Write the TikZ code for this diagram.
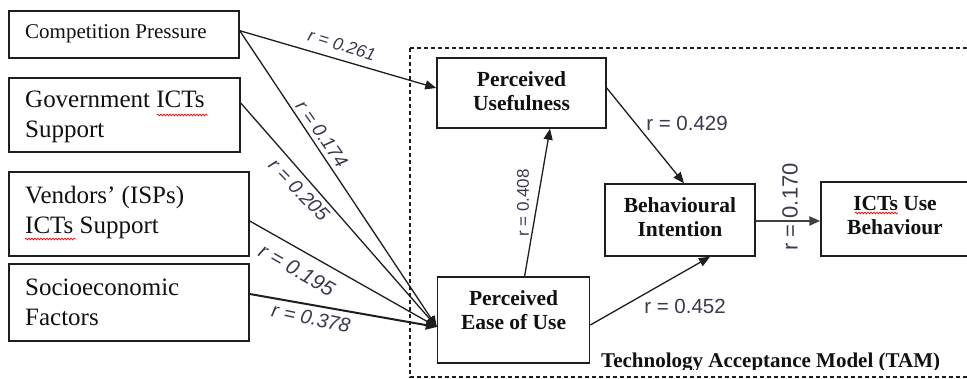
\documentclass[tikz,border=0pt]{standalone}
\usepackage{fontspec}
\setmainfont{Liberation Serif}
\newfontfamily\labfont{Liberation Sans}
\usetikzlibrary{arrows.meta,decorations.pathmorphing}
\definecolor{edgec}{HTML}{1E1E1E}
\definecolor{labc}{HTML}{3A3A4E}
\definecolor{txtc}{HTML}{111111}
\begin{document}
\begin{tikzpicture}[x=1pt,y=-1pt,
 boxst/.style={draw=edgec,line width=1.5pt,rectangle,inner sep=0pt,fill=white},
 ltext/.style={anchor=west,align=left,inner sep=0pt,text=txtc,font=\fontsize{25}{30}\selectfont},
 rtext/.style={align=center,inner sep=0pt,text=txtc,font=\bfseries\fontsize{21.5}{24}\selectfont},
 conn/.style={draw=edgec,line width=1.3pt,-{Triangle[length=11pt,width=9pt]}},
 slab/.style={text=labc,inner sep=0pt,font=\labfont\itshape\fontsize{#1}{20}\selectfont},
 slab/.default=19,
 ulab/.style={text=labc,inner sep=0pt,font=\labfont\fontsize{20.5}{24}\selectfont},
 squig/.style={draw=red,line width=0.7pt,decorate,decoration={snake,amplitude=0.9pt,segment length=3pt}}
]
\useasboundingbox (0,0) rectangle (967,379);
\fill[white] (0,0) rectangle (967,379);
% TAM frame
\draw[edgec,line width=1.3pt,dash pattern=on 4pt off 3pt] (410,48) rectangle (1000,377);
% boxes
\node[boxst,minimum width=230pt,minimum height=47pt] (cp) at (124,34.3) {};
\node[boxst,minimum width=231pt,minimum height=74pt] (gov) at (124.5,115) {};
\node[boxst,minimum width=240pt,minimum height=84pt] (ven) at (129,214) {};
\node[boxst,minimum width=240pt,minimum height=77pt] (soc) at (129,302.5) {};
\node[boxst,minimum width=169pt,minimum height=70pt] (pu) at (521.5,93) {};
\node[boxst,minimum width=152pt,minimum height=86pt] (peou) at (513.6,320) {};
\node[boxst,minimum width=150pt,minimum height=72pt] (bi) at (680,220) {};
\node[boxst,minimum width=148pt,minimum height=74pt] (ict) at (895,219) {};
% box texts
\node[ltext,font=\fontsize{21}{25}\selectfont] (cp-t) at (25,34.2) {Competition Pressure};
\node[ltext] (gov-t) at (25,117.2) {Government ICTs\\Support};
\node[ltext] (ven-t) at (25,212) {Vendors’ (ISPs)\\ICTs Support};
\node[ltext] (soc-t) at (25,302) {Socioeconomic\\Factors};
\node[rtext] (pu-t) at (521.5,91.4) {Perceived\\Usefulness};
\node[rtext] (peou-t) at (513.6,310.2) {Perceived\\Ease of Use};
\node[rtext] (bi-t) at (680,217.4) {Behavioural\\Intention};
\node[rtext] (ict-t) at (895,215.5) {ICTs Use\\Behaviour};
% spell-check marks
\draw[squig] (157,115) -- (208,115);
\draw[squig] (25,239) -- (76,239);
\draw[squig] (855,213) -- (898,213);
% connectors
\draw[conn] ([yshift=3.6pt]cp.east) -- ([yshift=5pt]pu.west);
\draw[conn] ([yshift=3.6pt]cp.east) -- ([yshift=-7pt]peou.west);
\draw[conn] ([yshift=12pt]gov.east) -- ([yshift=-7pt]peou.west);
\draw[conn] ([yshift=-7pt]ven.east) -- ([yshift=-7pt]peou.west);
\draw[conn,line width=2pt] ([yshift=8.5pt]soc.east) -- ([yshift=-7pt]peou.west);
\draw[conn] ([xshift=11pt]peou.north) -- ([xshift=28.5pt]pu.south);
\draw[conn] ([yshift=5pt]pu.east) -- ([xshift=4pt]bi.north);
\draw[conn] ([yshift=-5pt]peou.east) -- ([xshift=30pt]bi.south);
\draw[conn,line width=2.5pt,draw=edgec!85] ([yshift=-1pt]bi.east) -- ([yshift=-1pt]bi.east -| ict.west);
% labels
\node[slab=17.5,rotate=-17] (l261) at (342,45) {r = 0.261};
\node[slab=19,rotate=-55] (l174) at (322,134) {r = 0.174};
\node[slab=19.5,rotate=-46] (l205) at (299,190) {r = 0.205};
\node[slab=21,rotate=-30] (l195) at (297,270) {r = 0.195};
\node[slab=20,rotate=-12] (l378) at (311,318) {r = 0.378};
\node[ulab,font=\labfont\fontsize{17}{20}\selectfont,rotate=90] (l408) at (523,203) {r = 0.408};
\node[ulab] (l429) at (687,123) {r = 0.429};
\node[ulab] (l452) at (685,306) {r = 0.452};
\node[ulab,font=\labfont\fontsize{22}{26}\selectfont,rotate=90] (l170) at (790,207) {r = 0.170};
% TAM caption (bottom clipped as in the reference)
\begin{scope}
\clip (590,340) rectangle (960,369.5);
\node[anchor=base west,inner sep=0pt,text=txtc,font=\bfseries\fontsize{21}{24}\selectfont] (tam) at (601,367) {Technology Acceptance Model (TAM)};
\end{scope}
\end{tikzpicture}
\end{document}
